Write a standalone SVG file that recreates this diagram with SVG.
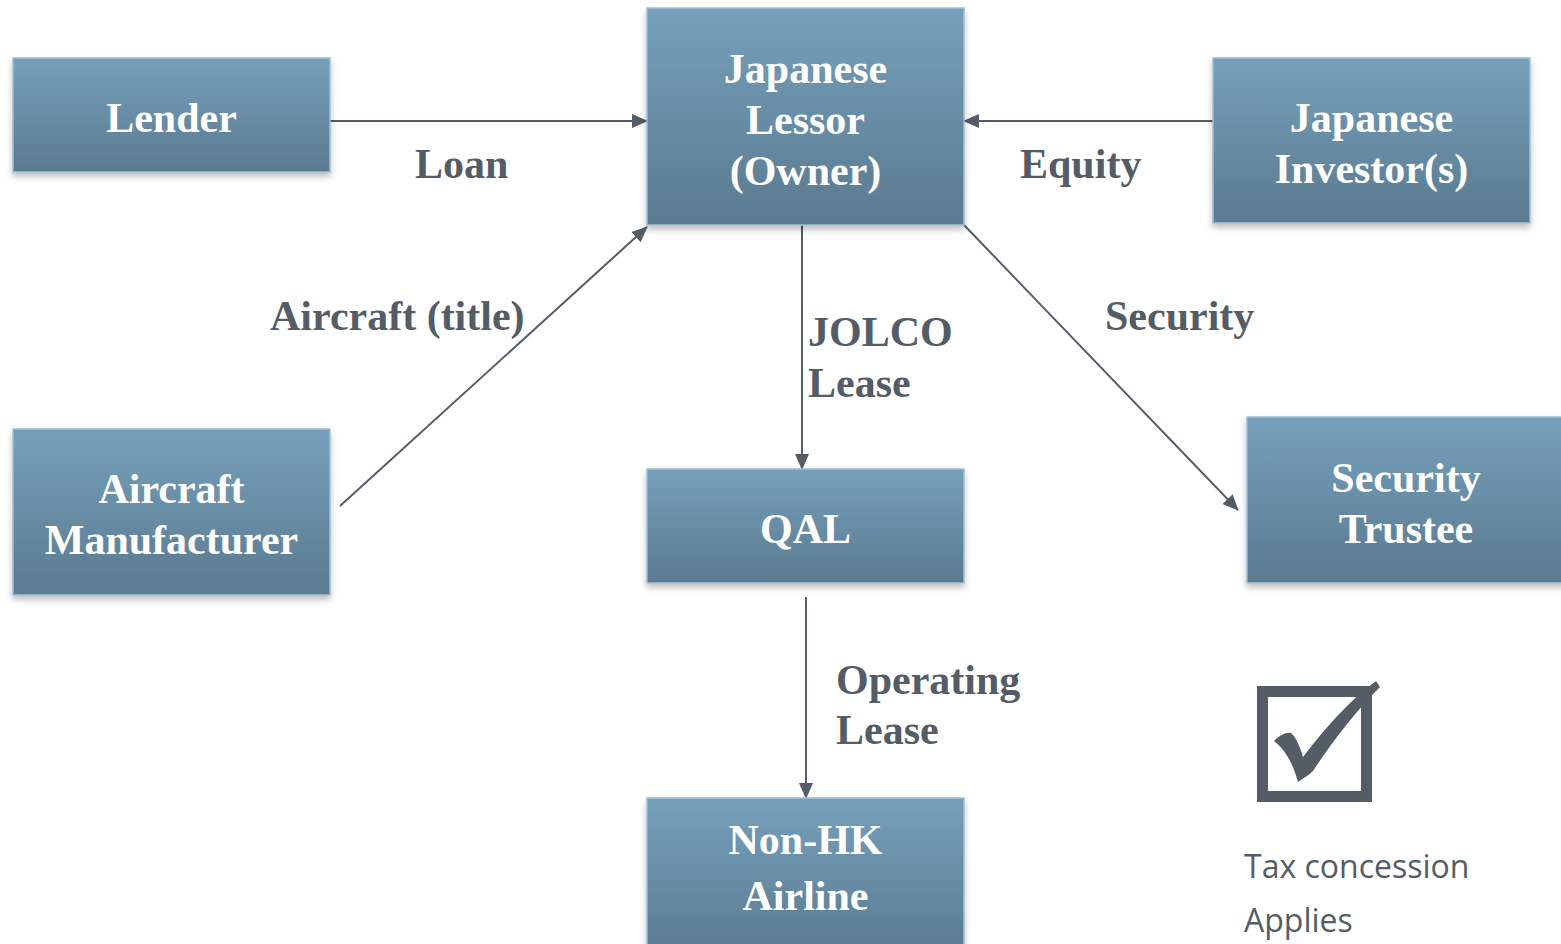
<svg xmlns="http://www.w3.org/2000/svg" width="1561" height="944" viewBox="0 0 1561 944">
<defs>
<linearGradient id="g" x1="0" y1="0" x2="0" y2="1">
<stop offset="0" stop-color="#76a0bb"/>
<stop offset="1" stop-color="#5a7a90"/>
</linearGradient>
<filter id="sh" x="-10%" y="-10%" width="120%" height="130%">
<feDropShadow dx="0" dy="4" stdDeviation="3" flood-color="#000" flood-opacity="0.25"/>
</filter>
<marker id="ar" markerWidth="10" markerHeight="10" refX="9" refY="5" orient="auto" markerUnits="userSpaceOnUse" viewBox="0 0 10 10">
<path d="M0,0 L10,5 L0,10 Z" fill="#545c65"/>
</marker>
<marker id="arb" markerWidth="16" markerHeight="14" refX="15" refY="7" orient="auto" markerUnits="userSpaceOnUse" viewBox="0 0 16 14">
<path d="M0,0 L16,7 L0,14 Z" fill="#545c65"/>
</marker>
</defs>
<style>
.box{fill:url(#g);stroke:#a3bfd1;stroke-width:1.5;filter:url(#sh)}
.bt{font-family:"Liberation Serif","Times New Roman",serif;font-weight:bold;font-size:42px;fill:#ffffff;text-anchor:middle}
.lb{font-family:"Liberation Serif","Times New Roman",serif;font-weight:bold;font-size:42px;fill:#545c65}
.cn{stroke:#545c65;stroke-width:2;fill:none}
.tx{font-family:"Open Sans","Noto Sans","Liberation Sans",sans-serif;font-size:32px;fill:#545c65}
</style>
<rect width="1561" height="944" fill="#ffffff"/>
<g id="connectors">
<line class="cn" x1="330" y1="121" x2="647" y2="121" marker-end="url(#arb)"/>
<line class="cn" x1="1213" y1="121" x2="964" y2="121" marker-end="url(#arb)"/>
<line class="cn" x1="340" y1="506" x2="647" y2="227" marker-end="url(#arb)"/>
<line class="cn" x1="802" y1="225" x2="802" y2="469" marker-end="url(#arb)"/>
<line class="cn" x1="964" y1="225" x2="1238" y2="510" marker-end="url(#arb)"/>
<line class="cn" x1="806" y1="597" x2="806" y2="798" marker-end="url(#arb)"/>
</g>
<g id="labels">
<text class="lb" x="415" y="178">Loan</text>
<text class="lb" x="1020" y="178">Equity</text>
<text class="lb" x="270" y="330">Aircraft (title)</text>
<text class="lb" x="808" y="346">JOLCO</text>
<text class="lb" x="808" y="397">Lease</text>
<text class="lb" x="1105" y="330">Security</text>
<text class="lb" x="836" y="694">Operating</text>
<text class="lb" x="836" y="744">Lease</text>
</g>
<g id="lender">
<rect class="box" x="13" y="58" width="317" height="114"/>
<text class="bt" x="171.5" y="132">Lender</text>
</g>
<g id="lessor">
<rect class="box" x="647" y="8" width="317" height="217"/>
<text class="bt" x="805.5" y="83">Japanese</text>
<text class="bt" x="805.5" y="134">Lessor</text>
<text class="bt" x="805.5" y="185">(Owner)</text>
</g>
<g id="investor">
<rect class="box" x="1213" y="58" width="317" height="165"/>
<text class="bt" x="1371.5" y="132">Japanese</text>
<text class="bt" x="1371.5" y="183">Investor(s)</text>
</g>
<g id="manufacturer">
<rect class="box" x="13" y="429" width="317" height="166"/>
<text class="bt" x="171.5" y="503">Aircraft</text>
<text class="bt" x="171.5" y="554">Manufacturer</text>
</g>
<g id="qal">
<rect class="box" x="647" y="469" width="317" height="114"/>
<text class="bt" x="805.5" y="543">QAL</text>
</g>
<g id="trustee">
<rect class="box" x="1247" y="417" width="320" height="166"/>
<text class="bt" x="1406" y="492">Security</text>
<text class="bt" x="1406" y="543">Trustee</text>
</g>
<g id="airline">
<rect class="box" x="647" y="798" width="317" height="160"/>
<text class="bt" x="805.5" y="854">Non-HK</text>
<text class="bt" x="805.5" y="910">Airline</text>
</g>
<g id="checkbox">
<path d="M1257,686 H1372 V802 H1257 Z M1268,697 V791 H1361 V697 Z" fill="#545c65" fill-rule="evenodd"/>
<path d="M1274,741 C1280,735 1286,732 1291,733 C1296,737 1300,747 1303,757 C1325,728 1350,700 1376,681 L1380,687 C1355,712 1330,745 1313,771 C1308,776 1302,779 1298,782 C1294,768 1288,752 1274,741 Z" fill="#545c65"/>
<text class="tx" x="1244" y="878">Tax concession</text>
<text class="tx" x="1244" y="932">Applies</text>
</g>
</svg>
